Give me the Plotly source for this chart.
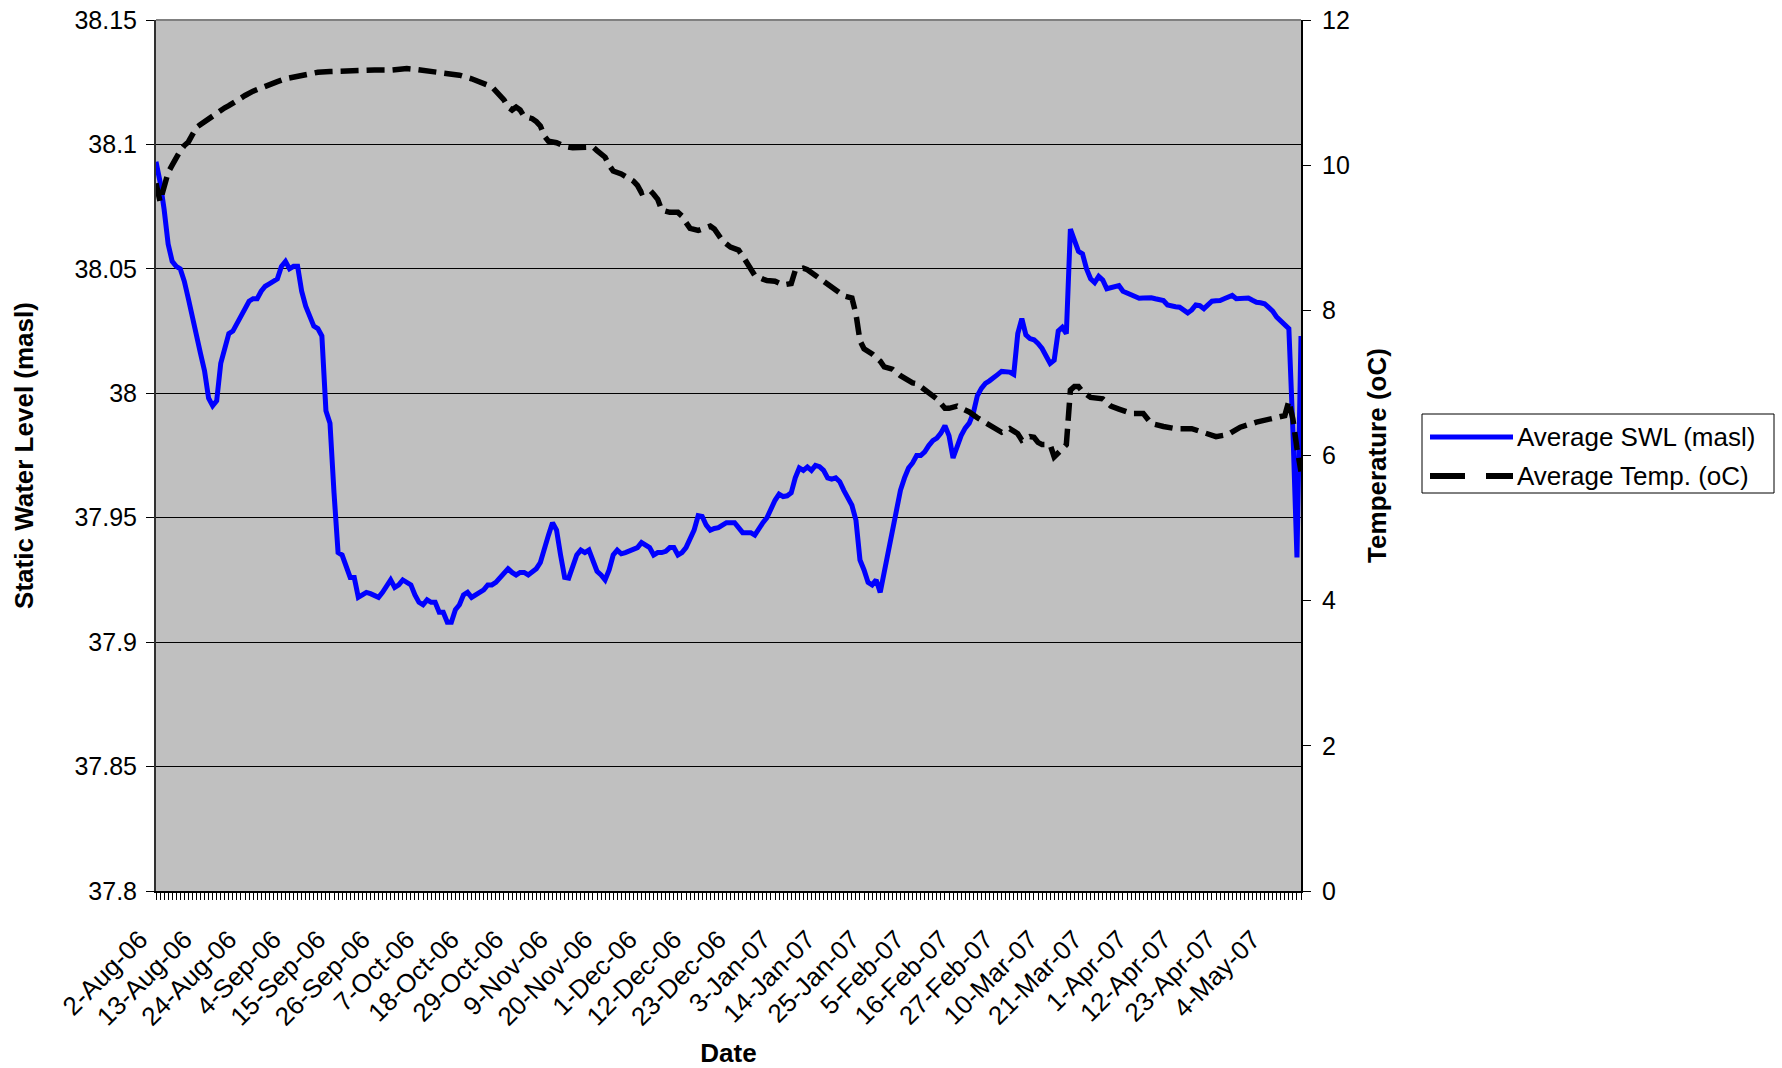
import pandas as pd
import plotly.graph_objects as go

START = "2006-08-02"
END = "2007-05-12"

# Average SWL (masl): day offset from 2-Aug-06, value
swl_day = [0,1,2,3,4,5,6,7,8,9,10,11,12,13,14,15,16,17,18,19,20,21,22,23,24,25,26,27,28,29,
           30,31,32,33,34,35,36,37,38,39,40,41,42,43,44,45,46,47,48,49,50,51,52,53,54,55,56,57,58,59,
           60,61,62,63,64,65,66,67,68,69,70,71,72,73,74,75,76,77,78,79,80,81,82,83,84,85,86,87,88,89,
           90,91,92,93,94,95,96,97,98,99,100,101,102,103,104,105,106,107,108,109,110,111,112,113,114,115,116,117,118,119,
           120,121,122,123,124,125,126,127,128,129,130,131,132,133,134,135,136,137,138,139,140,141,142,143,144,145,146,147,148,149,
           150,151,152,153,154,155,156,157,158,159,160,161,162,163,164,165,166,167,168,169,170,171,172,173,174,175,176,177,178,179,
           180,181,182,183,184,185,186,187,188,189,190,191,192,193,194,195,196,197,198,199,200,201,202,203,204,205,206,207,208,209,
           210,211,212,213,214,215,216,217,218,219,220,221,222,223,224,225,226,227,228,229,230,231,232,233,234,235,236,237,238,239,
           240,241,242,243,244,245,246,247,248,249,250,251,252,253,254,255,256,257,258,259,260,261,262,263,264,265,266,267,268,269,
           270,271,272,273,274,275,276,277,278,279,280,281,282,283]
swl_val = [38.093,38.085,38.074,38.060,38.053,38.051,38.050,38.045,38.038,38.030,38.022,38.016,38.009,37.998,37.995,37.997,38.012,38.019,38.024,38.025,
           38.028,38.030,38.033,38.037,38.038,38.038,38.041,38.043,38.044,38.045,38.046,38.051,38.053,38.050,38.051,38.051,38.041,38.035,38.031,38.027,
           38.026,38.023,37.993,37.988,37.960,37.936,37.935,37.930,37.926,37.926,37.918,37.919,37.920,37.9195,37.919,37.918,37.920,37.923,37.925,37.922,
           37.923,37.925,37.924,37.923,37.919,37.916,37.915,37.917,37.916,37.916,37.912,37.912,37.908,37.908,37.913,37.915,37.919,37.920,37.918,37.919,
           37.920,37.921,37.923,37.923,37.924,37.926,37.928,37.9295,37.928,37.927,37.928,37.928,37.927,37.928,37.9295,37.932,37.938,37.943,37.948,37.945,
           37.935,37.926,37.9257,37.930,37.935,37.937,37.936,37.937,37.932,37.9285,37.927,37.925,37.929,37.935,37.937,37.9355,37.936,37.9365,37.937,37.938,
           37.940,37.939,37.938,37.935,37.936,37.936,37.9365,37.938,37.938,37.935,37.936,37.938,37.941,37.945,37.9508,37.9505,37.947,37.945,37.9457,37.946,
           37.947,37.948,37.948,37.948,37.946,37.944,37.944,37.944,37.943,37.946,37.948,37.950,37.954,37.957,37.9595,37.9585,37.9588,37.960,37.966,37.970,
           37.969,37.9704,37.969,37.971,37.9705,37.969,37.966,37.9655,37.966,37.9645,37.961,37.958,37.955,37.949,37.933,37.929,37.924,37.923,37.925,37.920,
           37.928,37.937,37.944,37.951,37.961,37.966,37.970,37.972,37.975,37.975,37.9765,37.979,37.981,37.982,37.984,37.987,37.983,37.974,37.979,37.983,
           37.986,37.988,37.992,37.999,38.002,38.004,38.005,38.0065,38.0075,38.0088,38.0088,38.0085,38.0076,38.024,38.030,38.0235,38.022,38.0215,38.020,38.018,
           38.015,38.012,38.0133,38.025,38.0265,38.024,38.066,38.061,38.057,38.056,38.050,38.046,38.0445,38.047,38.0455,38.042,38.0425,38.043,38.0433,38.041,
           38.0403,38.0395,38.0388,38.0382,38.0383,38.0385,38.0384,38.0380,38.0376,38.0373,38.0355,38.0349,38.0348,38.0346,38.0335,38.0323,38.0335,38.0355,38.0352,38.034,
           38.0355,38.037,38.0372,38.0373,38.038,38.0388,38.0393,38.038,38.0380,38.0384,38.0383,38.0374,38.0366,38.0364,38.036,38.0345,38.033,38.0306,38.029,38.0275,
           38.026,37.985,37.934,38.023]

# Average Temp. (oC): day offset from 2-Aug-06, value
temp_day = [0,1,2,3,4,5,6,7,8,9,10,11,12,13,14,15,16,17,18,19,20,22,24,26,28,30,32,35,38,40,
            43,46,50,54,58,62,64,67,70,72,75,78,81,83,84,86,87,88,89,90,91,93,94,95,96,97,99,101,103,106,
            108,109,111,112,113,115,116,118,119,120,121,122,123,124,125,127,129,130,131,132,134,136,137,138,139,140,142,144,145,146,
            148,150,151,153,155,157,158,160,161,163,165,166,168,170,172,173,174,175,177,179,180,182,184,185,187,188,190,192,193,195,
            196,198,200,201,203,204,206,207,209,211,213,214,216,217,218,219,221,222,223,224,225,226,227,228,229,231,234,236,238,240,
            241,244,246,249,252,256,259,262,265,268,272,275,278,279,280,281,282,283]
temp_val = [9.75,9.50,9.70,9.90,10.00,10.12,10.20,10.27,10.32,10.42,10.52,10.56,10.60,10.65,10.68,10.72,10.76,10.79,10.82,10.86,10.90,10.96,11.02,11.07,11.11,11.15,11.19,11.23,11.27,11.28,
            11.29,11.30,11.30,11.31,11.31,11.33,11.32,11.30,11.28,11.26,11.24,11.19,11.13,11.08,11.02,10.90,10.80,10.76,10.80,10.76,10.67,10.64,10.60,10.54,10.40,10.33,10.31,10.26,10.24,10.24,
            10.25,10.20,10.11,10.00,9.92,9.88,9.85,9.78,9.72,9.62,9.64,9.66,9.60,9.53,9.38,9.35,9.35,9.30,9.21,9.13,9.10,9.15,9.16,9.12,9.05,8.96,8.87,8.83,8.75,8.65,
            8.48,8.43,8.41,8.40,8.35,8.37,8.55,8.58,8.56,8.48,8.40,8.34,8.27,8.20,8.17,7.95,7.58,7.47,7.40,7.30,7.22,7.19,7.10,7.06,7.00,6.99,6.91,6.82,6.78,6.65,
            6.65,6.68,6.63,6.60,6.52,6.49,6.42,6.40,6.32,6.37,6.30,6.21,6.26,6.25,6.18,6.15,6.15,5.98,6.05,6.09,6.15,6.90,6.95,6.95,6.88,6.80,6.78,6.68,6.64,6.60,
            6.58,6.58,6.44,6.40,6.37,6.37,6.31,6.26,6.29,6.39,6.46,6.50,6.53,6.55,6.75,6.50,6.10,5.78]

SWL_NAME = "Average SWL (masl)"
TEMP_NAME = "Average Temp. (oC)"
X_TITLE = "Date"
Y1_TITLE = "Static Water Level (masl)"
Y2_TITLE = "Temperature (oC)"

start = pd.Timestamp(START)
swl_dates = start + pd.to_timedelta(swl_day, unit="D")
temp_dates = start + pd.to_timedelta(temp_day, unit="D")

FONT = "Liberation Sans, Arial, sans-serif"
DAY_MS = 86400000

fig = go.Figure()
fig.add_trace(go.Scatter(x=swl_dates, y=swl_val, name=SWL_NAME, mode="lines",
                         line=dict(color="#0000FF", width=5), yaxis="y", showlegend=False))
fig.add_trace(go.Scatter(x=temp_dates, y=temp_val, name=TEMP_NAME, mode="lines",
                         line=dict(color="#000000", width=5.5, dash="18px,8px"), yaxis="y2",
                         showlegend=False))

W, H = 1782, 1068
L, R, T, B = 156, 1301, 20, 891
pw, ph = R - L, B - T

def px(x):
    return (x - L) / pw

def py(y):
    return (B - y) / ph

fig.update_layout(
    width=W, height=H, autosize=False,
    margin=dict(l=L, r=W - R, t=T, b=H - B, pad=0, autoexpand=False),
    paper_bgcolor="white", plot_bgcolor="#C0C0C0",
    font=dict(family=FONT, size=25, color="black"),
    xaxis=dict(
        type="date", range=[START, END], automargin=False,
        tick0=START, dtick=11 * DAY_MS, tickformat="%-d-%b-%y", tickangle=-45,
        ticks="outside", ticklen=7, tickcolor="black", tickwidth=1,
        minor=dict(dtick=DAY_MS, tick0=START, ticks="outside", ticklen=7, tickcolor="black", tickwidth=1, showgrid=False),
        showgrid=False, showline=True, linecolor="black", linewidth=2, zeroline=False,
        tickfont=dict(size=26), ticklabelshift=-16, ticklabelstandoff=14,
        title=dict(text=X_TITLE, font=dict(size=26, weight="bold"), standoff=20),
    ),
    yaxis=dict(
        range=[37.8, 38.15], dtick=0.05, tick0=37.8, automargin=False,
        ticks="outside", ticklen=8, tickcolor="black",
        showgrid=True, gridcolor="black", gridwidth=1,
        showline=True, linecolor="#303030", linewidth=2, zeroline=False,
        tickfont=dict(size=25), ticklabelstandoff=4,
        title=dict(text=Y1_TITLE, font=dict(size=26, weight="bold"), standoff=33),
    ),
    yaxis2=dict(
        range=[0, 12], dtick=2, tick0=0, overlaying="y", side="right", automargin=False,
        ticks="outside", ticklen=8, tickcolor="black",
        showgrid=False, showline=True, linecolor="black", linewidth=2, zeroline=False,
        tickfont=dict(size=25), ticklabelstandoff=6,
        title=dict(text=Y2_TITLE, font=dict(size=26, weight="bold"), standoff=19),
    ),
)

# top frame of the plot area
fig.add_shape(type="line", xref="paper", yref="paper", x0=0, x1=1, y0=1, y1=1,
              line=dict(color="#808080", width=2))

# legend box drawn in the Excel style
lx0, lx1, ly0, ly1 = 1422, 1774, 414, 493
fig.add_shape(type="rect", xref="paper", yref="paper",
              x0=px(lx0), x1=px(lx1), y0=py(ly1), y1=py(ly0),
              fillcolor="white", line=dict(color="black", width=1))
rows = [(437, SWL_NAME, dict(color="#0000FF", width=5)),
        (476, TEMP_NAME, dict(color="black", width=6, dash="35px,21px"))]
for yy, name, ln in rows:
    fig.add_shape(type="line", xref="paper", yref="paper",
                  x0=px(1430), x1=px(1513), y0=py(yy), y1=py(yy), line=ln)
    fig.add_annotation(xref="paper", yref="paper", x=px(1515), y=py(yy),
                       xanchor="left", yanchor="middle", text=name, showarrow=False,
                       font=dict(size=26, color="black"))

fig.write_html("out.html", config={"displayModeBar": False},
               post_script="document.body.style.margin='0px';document.body.style.overflow='hidden';")
